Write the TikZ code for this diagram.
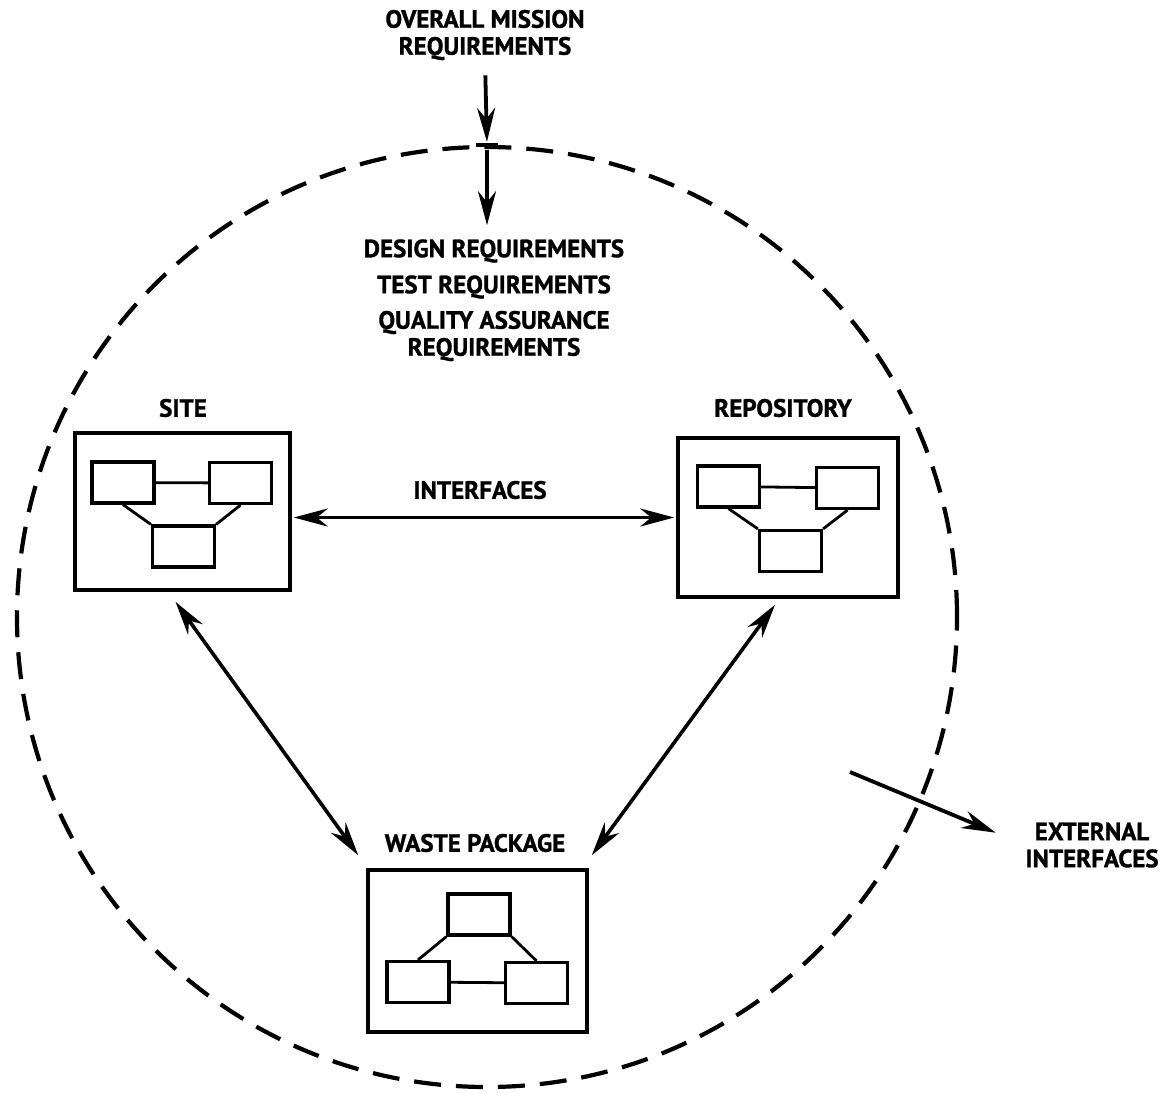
\documentclass[tikz,border=0pt]{standalone}
\usepackage{fontspec}
\setmainfont{PT Sans}[BoldFeatures={FakeBold=1.2}]
\usetikzlibrary{arrows.meta,calc}
\begin{document}
\begin{tikzpicture}[x=1pt,y=-1pt,
  lbl/.style={font=\bfseries\fontsize{25}{27}\selectfont, inner sep=0pt, align=center},
  frame/.style={draw, line width=3.6pt, inner sep=0pt},
  cell/.style={draw, line width=3.2pt, inner sep=0pt, minimum width=62pt, minimum height=41pt},
  link/.style={line width=2.8pt},
  arr/.style={line width=3.8pt, -{Stealth[length=34pt,width=18pt,inset=11pt]}},
  biarr/.style={line width=3.6pt, {Stealth[length=34pt,width=18pt,inset=11pt]}-{Stealth[length=34pt,width=18pt,inset=11pt]}},
  boundarystyle/.style={draw, circle, line width=4.2pt, dash pattern=on 27pt off 15pt, minimum size=940pt, inner sep=0pt}
]
\useasboundingbox (0,0) rectangle (1170,1093);

% system boundary
\node[boundarystyle] (boundary) at (487,617) {};

% top-level requirements
\node[lbl] (mission) at (485,35) {OVERALL MISSION\\REQUIREMENTS};
\node[lbl] (design) at (494,251) {DESIGN REQUIREMENTS};
\node[lbl] (test) at (494,287) {TEST REQUIREMENTS};
\node[lbl] (qa) at (494,336) {QUALITY ASSURANCE\\REQUIREMENTS};

\draw[arr, shorten <=15pt, shorten >=3pt] (mission.south) -- (boundary.north);
\draw[line width=3.2pt] ([xshift=-11pt]boundary.north) -- ([xshift=11pt]boundary.north);
\draw[arr, shorten <=5pt, shorten >=14pt] (boundary.north) -- (boundary.north |- design.north);

% site
\node[lbl] (siteT) at (183,408) {SITE};
\node[frame, minimum width=215pt, minimum height=157pt] (site) at (182.5,511.5) {};
\node[cell] (sL) at (123,482.5) {};
\node[cell] (sR) at (240.5,483) {};
\node[cell] (sB) at (183.5,546.5) {};
\draw[link] (sL) -- (sR);
\draw[link] (sL.south) -- (sB.north west);
\draw[link] (sR.south) -- (sB.north east);

% repository
\node[lbl] (repoT) at (783,408) {REPOSITORY};
\node[frame, minimum width=220pt, minimum height=159pt] (repo) at (788,517.5) {};
\node[cell] (rL) at (728.5,486.5) {};
\node[cell] (rR) at (847.5,488) {};
\node[cell] (rB) at (790.5,551) {};
\draw[link] (rL) -- (rR);
\draw[link] (rL.south) -- (rB.north west);
\draw[link] (rR.south) -- (rB.north east);

% waste package
\node[lbl] (wasteT) at (475,843) {WASTE PACKAGE};
\node[frame, minimum width=219pt, minimum height=162pt] (waste) at (477.5,951) {};
\node[cell] (wT) at (479,914.5) {};
\node[cell] (wL) at (418,982) {};
\node[cell] (wR) at (536.5,983) {};
\draw[link] (wL) -- (wR);
\draw[link] (wT.south west) -- (wL.north);
\draw[link] (wT.south east) -- (wR.north);

% interfaces between elements
\node[lbl] (ifT) at (480,490) {INTERFACES};
\draw[biarr, shorten <=2pt, shorten >=2pt] (site.east |- repo.west) -- (repo.west);
\draw[biarr] ($(site.south)+(-7,10)$) -- ($(waste.north west)+(-8,-13)$);
\draw[biarr] ($(repo.south)+(-13,6)$) -- ($(waste.north east)+(3,-13)$);

% external interfaces
\node[lbl] (ext) at (1092,845) {EXTERNAL\\INTERFACES};
\coordinate (extstart) at (850,772);
\draw[arr, shorten >=32pt] (extstart) -- (ext.west);
\end{tikzpicture}
\end{document}
